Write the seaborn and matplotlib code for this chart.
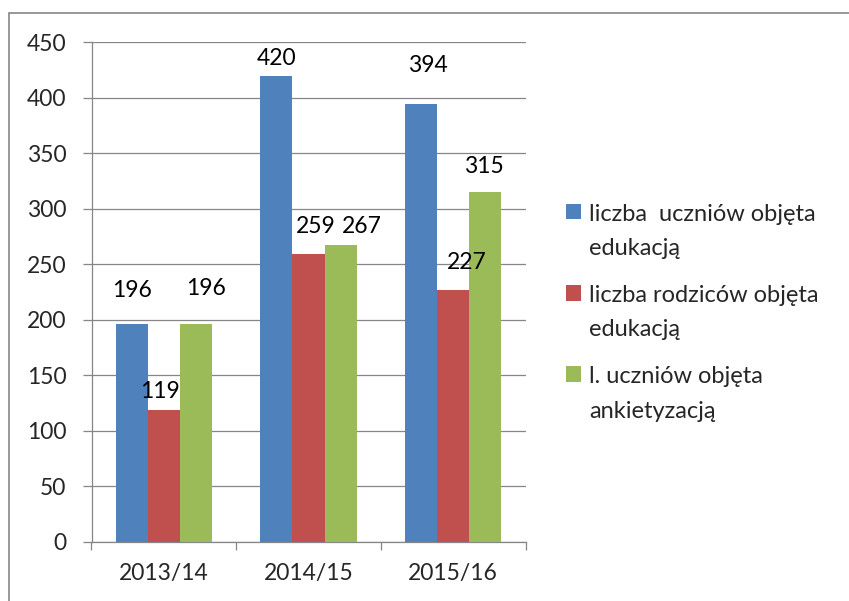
import matplotlib
matplotlib.use("Agg")
import matplotlib.pyplot as plt
import seaborn as sns
import pandas as pd
from matplotlib.patches import Rectangle

years = ["2013/14", "2014/15", "2015/16"]
series = ["liczba  uczniów objęta\nedukacją",
          "liczba rodziców objęta\nedukacją",
          "l. uczniów objęta\nankietyzacją"]
uczniowie = [196, 420, 394]
rodzice = [119, 259, 227]
ankieta = [196, 267, 315]
colors = ["#4F81BD", "#C0504D", "#9BBB59"]
yticks = [0, 50, 100, 150, 200, 250, 300, 350, 400, 450]

# label offsets in pixels (dx, dy) from bar top centre, per series
label_offsets = [
    [(0, 34), (0, 17), (7, 39)],
    [(-4, 18), (7, 28), (14, 27)],
    [(10, 36), (21, 19), (-1, 26)],
]

rows = []
for s, vals in zip(series, [uczniowie, rodzice, ankieta]):
    for y, v in zip(years, vals):
        rows.append({"rok": y, "seria": s, "wartosc": v})
df = pd.DataFrame(rows)

sns.set_style("white")
plt.rcParams["font.family"] = ["Lato", "DejaVu Sans"]

W, H = 849, 601
fig = plt.figure(figsize=(W / 100, H / 100), dpi=100)
ax = fig.add_axes([91.5 / W, 1 - 541.7 / H, 434 / W, (541.7 - 42.3) / H])

sns.barplot(data=df, x="rok", y="wartosc", hue="seria", palette=colors,
            width=0.667, saturation=1, ax=ax, zorder=3, linewidth=0)

gray = "#868686"
fs = 16.5
ax.set_ylim(0, 450)
ax.set_yticks(yticks)
ax.set_xlim(-0.5, 2.5)
ax.yaxis.grid(True, color=gray, linewidth=0.9, zorder=0)
ax.set_axisbelow(True)
ax.set_xlabel("")
ax.set_ylabel("")
for side in ["top", "right"]:
    ax.spines[side].set_visible(False)
for side in ["left", "bottom"]:
    ax.spines[side].set_color(gray)
    ax.spines[side].set_linewidth(0.9)

# x ticks at category boundaries, labels at centres
ax.set_xticks([-0.5, 0.5, 1.5, 2.5], minor=False)
ax.set_xticklabels([])
ax.set_xticks([0, 1, 2], minor=True)
ax.set_xticklabels(years, minor=True)
ax.tick_params(axis="x", which="major", direction="out", length=6, width=0.9,
               color=gray, bottom=True)
ax.tick_params(axis="x", which="minor", length=0, pad=15.5, labelsize=fs)
ax.tick_params(axis="y", direction="out", length=6.5, width=0.9, color=gray,
               left=True, pad=11.5, labelsize=fs)

for ci, cont in enumerate(ax.containers):
    for bi, bar in enumerate(cont):
        v = bar.get_height()
        dx, dy = label_offsets[ci][bi]
        ax.annotate(f"{int(round(v))}",
                    xy=(bar.get_x() + bar.get_width() / 2, v),
                    xytext=(dx, dy), textcoords="offset pixels",
                    ha="center", va="center", fontsize=fs, color="black")

handles, labels = ax.get_legend_handles_labels()
leg = ax.legend(handles, labels, loc="upper left",
                bbox_to_anchor=(566 / W, 1 - 204 / H),
                bbox_transform=fig.transFigure, frameon=False,
                fontsize=17, handlelength=0.62, handleheight=0.62,
                handletextpad=0.35, labelspacing=1.1, borderpad=0,
                borderaxespad=0)
for t in leg.get_texts():
    t.set_linespacing(1.78)
# align handle with first line
for vp in leg._legend_handle_box.get_children():
    for hp in vp.get_children():
        hp.align = "top"

border = Rectangle((9 / W, -0.1), 1.2, 1 - 13 / H + 0.1,
                   transform=fig.transFigure, fill=False,
                   edgecolor=gray, linewidth=1.2)
fig.add_artist(border)

fig.savefig("out.png", dpi=100, facecolor="white")
